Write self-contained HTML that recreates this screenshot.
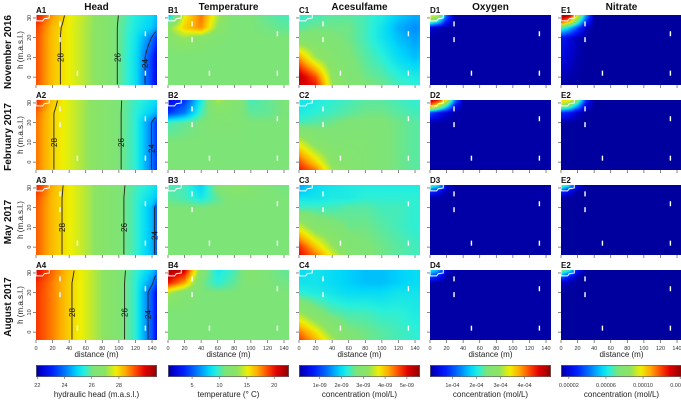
<!DOCTYPE html>
<html><head><meta charset="utf-8">
<style>
html,body{margin:0;padding:0;background:#fff;}
#wrap{position:relative;width:681px;height:400px;overflow:hidden;font-family:"Liberation Sans",sans-serif;}
canvas{position:absolute;}
svg{position:absolute;left:0;top:0;}
</style></head>
<body>
<div id="wrap">
<svg id="ov" width="681" height="400"></svg>
</div>
<script>
// ---- data ----
const rowLabels = ["November 2016","February 2017","May 2017","August 2017"];
const colTitles = ["Head","Temperature","Acesulfame","Oxygen","Nitrate"];
const panelLabels = [["A1","B1","C1","D1","E1"],["A2","B2","C2","D2","E2"],["A3","B3","C3","D3","E2"],["A4","B4","C4","D4","E2"]];
const xTicks = [0,20,40,60,80,100,120,140];
const yTicks = [30,20,10,0];
const xsABC = [0,20,40,60,80,100,120,140,148];
const hsABC = [31.5,25,20,10,0,-4];
const xsDE = [0,10,20,30,40,148];
const hsDE = [31.5,28,25,20,-4];
const vRange = [[21.9,30.8],[0.6,22.7],[0.05,5.6],[0.07,5.1],[1.15,14.2]];
const cbTicks = [[22,24,26,28],[5,10,15,20],[1,2,3,4,5],[1,2,3,4],[2,6,10,14]];
const cbTickLabels = [["22","24","26","28"],["5","10","15","20"],["1e-09","2e-09","3e-09","4e-09","5e-09"],["1e-04","2e-04","3e-04","4e-04"],["0.00002","0.00006","0.00010","0.00014"]];
const cbTitles = ["hydraulic head (m.a.s.l.)","temperature (° C)","concentration (mol/L)","concentration (mol/L)","concentration (mol/L)"];
const headLevels = [28,26,24];
const wells = [[29,27],[29,19],[50,2],[132,22],[132,2]];

const headA1 = [[29.8,28.6,27.8,27.3,26.7,26.0,25.4,25.0,24.6],[29.3,28.3,27.75,27.25,26.7,25.95,25.3,24.8,24.2],[29.2,28.25,27.75,27.25,26.7,25.95,25.2,24.0,23.0],[29.2,28.25,27.75,27.25,26.7,25.95,25.1,23.3,22.2],[29.2,28.25,27.75,27.25,26.7,25.95,25.1,23.3,22.2],[29.2,28.25,27.75,27.25,26.7,25.95,25.1,23.3,22.2]];
const headA2 = [[29.6,28.2,27.6,27.1,26.6,26.1,25.6,25.2,25.0],[29.0,28.05,27.6,27.1,26.6,26.1,25.5,24.8,24.4],[28.9,28.05,27.6,27.1,26.6,26.1,25.5,24.0,23.0],[28.9,28.05,27.6,27.1,26.6,26.1,25.5,24.0,23.0],[28.9,28.05,27.6,27.1,26.6,26.1,25.5,24.0,23.0],[28.9,28.05,27.6,27.1,26.6,26.1,25.5,24.0,23.0]];
const headA3 = [[29.7,28.4,27.8,27.3,26.7,26.2,25.7,25.3,25.0],[29.2,28.3,27.8,27.3,26.7,26.2,25.6,25.0,24.6],[29.1,28.3,27.8,27.3,26.7,26.2,25.6,24.6,23.3],[29.1,28.3,27.8,27.3,26.7,26.2,25.6,24.6,23.3],[29.1,28.3,27.8,27.3,26.7,26.2,25.6,24.6,23.3],[29.1,28.3,27.8,27.3,26.7,26.2,25.6,24.6,23.3]];
const headA4 = [[30.0,29.0,28.2,27.6,27.0,26.3,25.6,24.8,24.0],[29.5,28.8,28.1,27.6,27.0,26.3,25.5,24.2,23.2],[29.4,28.8,28.1,27.6,27.0,26.3,25.5,23.6,22.3],[29.4,28.8,28.1,27.6,27.0,26.3,25.5,23.6,22.3],[29.4,28.8,28.1,27.6,27.0,26.3,25.5,23.6,22.3],[29.4,28.8,28.1,27.6,27.0,26.3,25.5,23.6,22.3]];
const tempB1 = [[7,15,18,14,11,11,10.5,10,10],[13,16,17.5,13,11,11,10.8,10.5,10.5],[12.5,13.5,12.5,11.5,11,11,11,11,11],[11,11,11,11,11,11,11,11,11],[11,11,11,11,11,11,11,11,11],[11,11,11,11,11,11,11,11,11]];
const tempB2 = [[2,4,9,14,12,10,10.5,11,11],[4,6,10,12,11.5,10.5,10.5,11,10.8],[10,10.5,11,11.5,11.5,11,11,11,11],[11,11,11,11,11,11,11,11,11],[11,11,11,11,11,11,11,11,11],[11,11,11,11,11,11,11,11,11]];
const tempB3 = [[10,10,8,11.5,13,12,11,10.8,10.8],[10.5,10,9,10.5,11.5,11.5,11,11,11],[11,11,11,11,11,11,11,11,11],[11,11,11,11,11,11,11,11,11],[11,11,11,11,11,11,11,11,11],[11,11,11,11,11,11,11,11,11]];
const tempB4 = [[22,21,12,9,10,12,11,10.5,10.5],[20,17,11,9.5,10.5,11.5,11,10.8,10.8],[14,12,11,11,11,11,11,11,11],[11,11,11,11,11,11,11,11,11],[11,11,11,11,11,11,11,11,11],[11,11,11,11,11,11,11,11,11]];
const aceC1 = [[2.3,2.4,2.5,2.5,2.4,2.2,1.9,1.7,1.7],[2.5,2.6,2.6,2.6,2.4,2.1,1.7,1.5,1.6],[2.8,2.8,2.7,2.6,2.4,2.1,1.8,1.6,1.7],[4.2,3.3,2.9,2.7,2.5,2.3,2.0,1.8,1.9],[5.3,4.6,3.2,2.8,2.6,2.5,2.3,2.2,2.2],[5.2,4.9,3.3,2.9,2.7,2.6,2.4,2.3,2.3]];
const aceC2 = [[2.1,2.2,2.3,2.4,2.5,2.5,2.4,2.3,2.3],[2.2,2.3,2.4,2.5,2.6,2.6,2.5,2.4,2.4],[2.4,2.5,2.6,2.7,2.7,2.7,2.6,2.5,2.5],[3.6,3.0,2.8,2.8,2.8,2.7,2.6,2.5,2.5],[4.6,3.9,3.1,2.9,2.8,2.7,2.6,2.5,2.5],[4.9,4.4,3.3,3.0,2.8,2.7,2.6,2.5,2.5]];
const aceC3 = [[1.6,2.0,2.1,2.2,2.2,2.2,2.2,2.2,2.2],[2.1,2.1,2.2,2.2,2.3,2.3,2.3,2.3,2.3],[2.4,2.4,2.4,2.5,2.5,2.4,2.4,2.3,2.3],[3.6,3.0,2.8,2.6,2.6,2.5,2.4,2.3,2.3],[4.8,4.0,3.3,2.8,2.7,2.6,2.5,2.4,2.4],[5.0,4.4,3.6,2.9,2.7,2.6,2.5,2.4,2.4]];
const aceC4 = [[2.0,2.1,2.0,1.9,1.8,1.8,1.9,2.0,2.0],[2.1,2.1,2.0,1.9,1.8,1.8,1.9,2.0,2.0],[2.3,2.2,2.1,2.0,2.0,2.0,2.1,2.1,2.1],[3.3,2.8,2.5,2.4,2.4,2.3,2.3,2.2,2.2],[4.4,3.8,3.1,2.7,2.6,2.5,2.4,2.3,2.3],[4.7,4.1,3.4,2.8,2.6,2.5,2.4,2.3,2.3]];
const oxyD1 = [[3.5,3.3,1.2,0.15,0.15,0.15],[2.5,1.8,0.6,0.15,0.15,0.15],[0.3,0.2,0.15,0.15,0.15,0.15],[0.15,0.15,0.15,0.15,0.15,0.15],[0.15,0.15,0.15,0.15,0.15,0.15]];
const oxyD2 = [[4.8,4.5,3.5,1.3,0.15,0.15],[4.0,3.0,1.8,0.5,0.15,0.15],[1.0,0.6,0.3,0.15,0.15,0.15],[0.15,0.15,0.15,0.15,0.15,0.15],[0.15,0.15,0.15,0.15,0.15,0.15]];
const oxyD3 = [[2.5,2.0,0.4,0.15,0.15,0.15],[0.8,0.5,0.15,0.15,0.15,0.15],[0.15,0.15,0.15,0.15,0.15,0.15],[0.15,0.15,0.15,0.15,0.15,0.15],[0.15,0.15,0.15,0.15,0.15,0.15]];
const oxyD4 = [[2.0,1.6,0.3,0.15,0.15,0.15],[1.0,0.6,0.15,0.15,0.15,0.15],[0.15,0.15,0.15,0.15,0.15,0.15],[0.15,0.15,0.15,0.15,0.15,0.15],[0.15,0.15,0.15,0.15,0.15,0.15]];
const nitE1 = [[14,13.5,10,5,1.3,1.3],[12,10.5,7,3,1.3,1.3],[7,5.5,3.5,1.6,1.3,1.3],[2.5,2,1.5,1.3,1.3,1.3],[1.3,1.3,1.3,1.3,1.3,1.3]];
const nitE2 = [[10.5,10,8,3,1.3,1.3],[8,7,4.5,1.8,1.3,1.3],[3,2.5,1.6,1.3,1.3,1.3],[1.3,1.3,1.3,1.3,1.3,1.3],[1.3,1.3,1.3,1.3,1.3,1.3]];
const nitE3 = [[8,6,2,1.3,1.3,1.3],[3,2,1.3,1.3,1.3,1.3],[1.3,1.3,1.3,1.3,1.3,1.3],[1.3,1.3,1.3,1.3,1.3,1.3],[1.3,1.3,1.3,1.3,1.3,1.3]];
const nitE4 = [[8,6.5,2.5,1.3,1.3,1.3],[4,2.5,1.4,1.3,1.3,1.3],[1.6,1.4,1.3,1.3,1.3,1.3],[1.3,1.3,1.3,1.3,1.3,1.3],[1.3,1.3,1.3,1.3,1.3,1.3]];

const grids = [
 [headA1,tempB1,aceC1,oxyD1,nitE1],
 [headA2,tempB2,aceC2,oxyD2,nitE2],
 [headA3,tempB3,aceC3,oxyD3,nitE3],
 [headA4,tempB4,aceC4,oxyD4,nitE4]];

// ---- layout ----
const colLeft = [36,168,299,430,561];
const rowTop = [15,100,185,270];
const PW = 121, PH = 70, XMAX = 146, HTOP = 31.5, HBOT = -4;
const sx = (c,x) => colLeft[c] + x / XMAX * PW;
const sy = (r,h) => rowTop[r] + (HTOP - h) / (HTOP - HBOT) * PH;

const stops = [[0,[0,0,140]],[0.04,[0,0,205]],[0.13,[0,30,255]],[0.25,[0,130,255]],[0.34,[0,215,250]],[0.4,[40,240,220]],[0.47,[125,228,120]],[0.57,[140,228,100]],[0.66,[240,240,0]],[0.74,[255,170,0]],[0.82,[255,75,0]],[0.9,[225,0,0]],[1,[140,0,0]]];
function cmap(t){t=Math.max(0,Math.min(1,t));for(let i=1;i<stops.length;i++){if(t<=stops[i][0]){const a=stops[i-1],b=stops[i];const f=(t-a[0])/(b[0]-a[0]);return [0,1,2].map(k=>Math.round(a[1][k]+(b[1][k]-a[1][k])*f));}}return stops[stops.length-1][1];}
function seg(arr,v,desc){
  for(let i=0;i<arr.length-1;i++){const a=arr[i],b=arr[i+1];const inside=desc?(v<=a&&v>=b):(v>=a&&v<=b);if(inside)return [i,(v-a)/(b-a)];}
  return desc?(v>arr[0]?[0,0]:[arr.length-2,1]):(v<arr[0]?[0,0]:[arr.length-2,1]);
}
function sample(g,xs,hs,x,h){const [i,fx]=seg(xs,x,false);const [j,fy]=seg(hs,h,true);
  const a=g[j][i],b=g[j][i+1],c=g[j+1][i],d=g[j+1][i+1];return (a*(1-fx)+b*fx)*(1-fy)+(c*(1-fx)+d*fx)*fy;}

const wrap=document.getElementById('wrap');
const ov=document.getElementById('ov');
const NS='http://www.w3.org/2000/svg';
function el(tag,attrs,parent,text){const e=document.createElementNS(NS,tag);for(const k in attrs)e.setAttribute(k,attrs[k]);if(text!==undefined)e.textContent=text;(parent||ov).appendChild(e);return e;}

for(let r=0;r<4;r++){
 for(let c=0;c<5;c++){
  const xs=c<3?xsABC:xsDE, hs=c<3?hsABC:hsDE;
  const g=grids[r][c]; const [vmin,vmax]=vRange[c];
  const cv=document.createElement('canvas');
  cv.width=PW;cv.height=PH;cv.style.left=colLeft[c]+'px';cv.style.top=rowTop[r]+'px';
  
  
  wrap.insertBefore(cv,ov);
  const ctx=cv.getContext('2d');const img=ctx.createImageData(PW,PH);
  const vals=[];
  for(let py=0;py<PH;py++){const h=HTOP-(py+0.5)/PH*(HTOP-HBOT);vals.push([]);
   for(let px=0;px<PW;px++){const x=(px+0.5)/PW*XMAX;const v=sample(g,xs,hs,x,h);vals[py].push(v);
    const col=cmap((v-vmin)/(vmax-vmin));const o=(py*PW+px)*4;img.data[o]=col[0];img.data[o+1]=col[1];img.data[o+2]=col[2];img.data[o+3]=255;}}
  ctx.putImageData(img,0,0);
  if(c===0){
   headLevels.forEach(L=>{
    const pts=[];
    for(let py=0;py<PH;py++){for(let px=0;px<PW-1;px++){const a=vals[py][px],b=vals[py][px+1];if((a-L)*(b-L)<=0&&a!==b){pts.push([colLeft[c]+px+(a-L)/(a-b),rowTop[r]+py+0.5]);break;}}}
    if(pts.length>5){
     const ln=el('polyline',{points:pts.map(p=>p.join(',')).join(' '),fill:'none',stroke:'#222','stroke-width':0.9});
     
     
     const mid=pts[Math.floor(pts.length*0.6)];
     const t=el('text',{x:mid[0]+3,y:mid[1],'font-size':8,'text-anchor':'middle',transform:'rotate(-90 '+(mid[0]+3)+' '+mid[1]+')',fill:'#111'},null,String(L));
     
     
    }
   });
  }
  const lk=el('polyline',{points:[[0,31.5],[0,28.5],[8,28.5],[10,29.6],[16,30],[16,31.5]].map(p=>sx(c,p[0])+','+sy(r,p[1])).join(' '),fill:'none',stroke:'#fff','stroke-width':1});
  
  
  wells.forEach(w=>{const m=el('rect',{x:sx(c,w[0])-0.7,y:sy(r,w[1])-2.5,width:1.4,height:5,fill:'#fff'});
   
   });
  yTicks.forEach(t=>{el('line',{x1:colLeft[c]-3,x2:colLeft[c],y1:sy(r,t),y2:sy(r,t),stroke:'#555','stroke-width':0.7});
   if(c===0){const lb=el('text',{x:colLeft[c]-5,y:sy(r,t),'font-size':5.5,fill:'#333','text-anchor':'middle',transform:'rotate(-90 '+(colLeft[c]-5)+' '+sy(r,t)+')'},null,String(t));
    
    }});
  xTicks.forEach(t=>{el('line',{x1:sx(c,t),x2:sx(c,t),y1:rowTop[r]+PH,y2:rowTop[r]+PH+3,stroke:'#555','stroke-width':0.7});
   if(r===3){const lb=el('text',{x:sx(c,t),y:rowTop[r]+PH+10,'font-size':5.5,fill:'#333','text-anchor':'middle'},null,String(t));
    
    }});
  if(r===3){const xt=el('text',{x:colLeft[c]+PW/2,y:rowTop[r]+PH+17,'font-size':8,fill:'#222','text-anchor':'middle'},null,'distance (m)');
   
   }
  const pl=el('text',{x:colLeft[c],y:rowTop[r]-2,'font-size':8,'font-weight':'bold',fill:'#111'},null,panelLabels[r][c]);
  
  
 }
 const yl=el('text',{x:0,y:0,'font-size':8,fill:'#222','text-anchor':'middle',transform:'translate(23 '+(rowTop[r]+PH/2)+') rotate(-90)'},null,'h (m.a.s.l.)');
 
 
 const rl=el('text',{x:0,y:0,'font-size':10,'font-weight':'bold',fill:'#111','text-anchor':'middle',transform:'translate(11 '+(rowTop[r]+PH/2+2)+') rotate(-90)'},null,rowLabels[r]);
 
 
}
for(let c=0;c<5;c++){
 const t=el('text',{x:colLeft[c]+PW/2,y:10,'font-size':10,'font-weight':'bold',fill:'#111','text-anchor':'middle'},null,colTitles[c]);
 
 
 const cv=document.createElement('canvas');cv.width=PW;cv.height=12;cv.style.left=colLeft[c]+'px';cv.style.top='365px';
 
 
 wrap.insertBefore(cv,ov);
 const ctx=cv.getContext('2d');
 for(let px=0;px<PW;px++){const col=cmap((px+0.5)/PW);ctx.fillStyle='rgb('+col.join(',')+')';ctx.fillRect(px,0,1,12);}
 el('rect',{x:colLeft[c]+0.5,y:365.5,width:PW-1,height:11,fill:'none',stroke:'#666','stroke-width':0.7});
 const [vmin,vmax]=vRange[c];
 cbTicks[c].forEach((v,i)=>{const x=colLeft[c]+(v-vmin)/(vmax-vmin)*PW;
  el('line',{x1:x,x2:x,y1:377,y2:379,stroke:'#555','stroke-width':0.6});
  const lb=el('text',{x:x,y:387,'font-size':5.5,fill:'#333','text-anchor':'middle'},null,cbTickLabels[c][i]);
  
  });
 const ct=el('text',{x:colLeft[c]+PW/2,y:397,'font-size':8,fill:'#222','text-anchor':'middle'},null,cbTitles[c]);
 
 
}
</script>
</body></html>
